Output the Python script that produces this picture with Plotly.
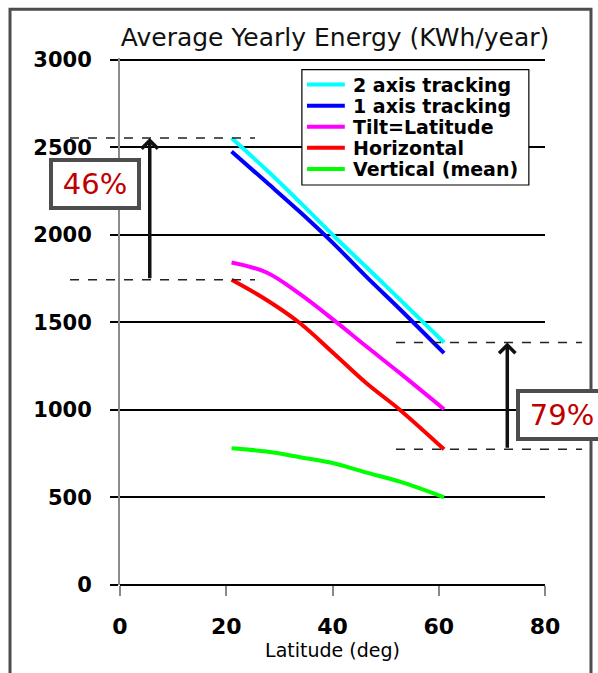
import plotly.graph_objects as go

# Yearly PV energy versus site latitude for five collector orientations
latitude = [21, 27.6, 33.9, 40.2, 46.4, 52.7, 61]
two_axis = [2553, 2370, 2185, 1995, 1815, 1630, 1385]
one_axis = [2476, 2300, 2130, 1950, 1760, 1575, 1324]
tilt_latitude = [1842, 1785, 1661, 1514, 1362, 1210, 1004]
horizontal = [1743, 1628, 1495, 1324, 1152, 1000, 775]
vertical_mean = [781, 762, 730, 695, 642, 590, 501]

series_names = ["2 axis tracking", "1 axis tracking", "Tilt=Latitude",
                "Horizontal", "Vertical (mean)"]
series_colors = ["#00FFFF", "#0000FF", "#FF00FF", "#FF0000", "#00FF00"]
series_values = [two_axis, one_axis, tilt_latitude, horizontal, vertical_mean]

y_ticks = [0, 500, 1000, 1500, 2000, 2500, 3000]
x_ticks = [0, 20, 40, 60, 80]

FONT = "DejaVu Sans, sans-serif"

fig = go.Figure()
for name, vals, color in zip(series_names, series_values, series_colors):
    fig.add_trace(go.Scatter(
        x=latitude, y=vals, mode="lines", name=name,
        line=dict(color=color, width=4, shape="spline", smoothing=1.0),
        showlegend=False, hoverinfo="x+y+name",
    ))

shapes = []
annotations = []

# outer slide frame
shapes.append(dict(type="rect", xref="paper", yref="paper",
                   x0=-0.2588, x1=1.1082, y0=-0.35, y1=1.0923,
                   line=dict(color="#4d4d4d", width=3), fillcolor="rgba(0,0,0,0)",
                   layer="above"))

# gain of 2-axis tracking over a horizontal panel, at both latitude ends
gains = [
    dict(lo=horizontal[0], hi=two_axis[0], arrow_x=5.6,
         dash_x=(-0.1176, 0.3176), box_x=-0.0588, box_y=0.761),
    dict(lo=horizontal[-1], hi=two_axis[-1], arrow_x=72.9,
         dash_x=(0.6494, 1.087), box_x=1.04, box_y=0.3235),
]
for g in gains:
    for level in (g["lo"], g["hi"]):
        shapes.append(dict(type="line", xref="paper", yref="y",
                           x0=g["dash_x"][0], x1=g["dash_x"][1], y0=level, y1=level,
                           line=dict(color="#222222", width=1.5, dash="dash"),
                           layer="above"))
    annotations.append(dict(
        x=g["arrow_x"], y=g["hi"], xref="x", yref="y",
        ax=g["arrow_x"], ay=g["lo"], axref="x", ayref="y",
        text="", showarrow=True, arrowhead=4, arrowsize=0.9,
        arrowwidth=3.5, arrowcolor="#111111", standoff=0, startstandoff=0,
    ))
    pct = round((g["hi"] / g["lo"] - 1) * 100)
    annotations.append(dict(
        x=g["box_x"], y=g["box_y"], xref="paper", yref="paper",
        xanchor="center", yanchor="middle", showarrow=False,
        text=f"{pct}%", font=dict(family=FONT, size=29, color="#C00000"),
        bgcolor="white", bordercolor="#4d4d4d", borderwidth=4, borderpad=0,
        width=84, height=44,
    ))

# legend box
shapes.append(dict(type="rect", xref="paper", yref="paper",
                   x0=0.428, x1=0.962, y0=0.759, y1=0.978,
                   line=dict(color="black", width=1.2), fillcolor="white",
                   layer="above"))
row_top = 0.9496
row_step = 0.04
for i, (name, color) in enumerate(zip(series_names, series_colors)):
    yy = row_top - i * row_step
    shapes.append(dict(type="line", xref="paper", yref="paper",
                       x0=0.44, x1=0.529, y0=yy, y1=yy,
                       line=dict(color=color, width=4), layer="above"))
    annotations.append(dict(
        x=0.5435, y=yy, xref="paper", yref="paper",
        xanchor="left", yanchor="middle", showarrow=False,
        text=name, font=dict(family=FONT, size=19, color="black", weight="bold"),
    ))

fig.update_layout(
    width=598, height=673,
    margin=dict(l=120, r=53, t=58, b=88, pad=0),
    paper_bgcolor="white", plot_bgcolor="white",
    title=dict(text="Average Yearly Energy (KWh/year)",
               font=dict(family=FONT, size=25, color="#111111"),
               x=0.506, xref="paper", xanchor="center",
               y=1 - 37 / 673, yref="container", yanchor="middle"),
    shapes=shapes, annotations=annotations,
    showlegend=False,
)
fig.update_xaxes(
    range=[0, 80], tickvals=x_ticks, showgrid=False, zeroline=False,
    showline=False, ticks="outside", ticklen=10, tickwidth=2, tickcolor="#888888",
    tickfont=dict(family=FONT, size=22, color="black", weight="bold"),
    ticklabelstandoff=12,
    title=dict(text="Latitude (deg)", font=dict(family=FONT, size=19, color="black"),
               standoff=4),
)
fig.update_yaxes(
    range=[0, 3010], tickvals=y_ticks, showgrid=True, gridcolor="black", gridwidth=2,
    zeroline=True, zerolinecolor="black", zerolinewidth=2,
    showline=True, linecolor="#8c8c8c", linewidth=2,
    ticks="outside", ticklen=8, tickwidth=2, tickcolor="black",
    tickfont=dict(family=FONT, size=21, color="black", weight="bold"),
    ticklabelstandoff=14,
)

fig.write_html("out.html")
